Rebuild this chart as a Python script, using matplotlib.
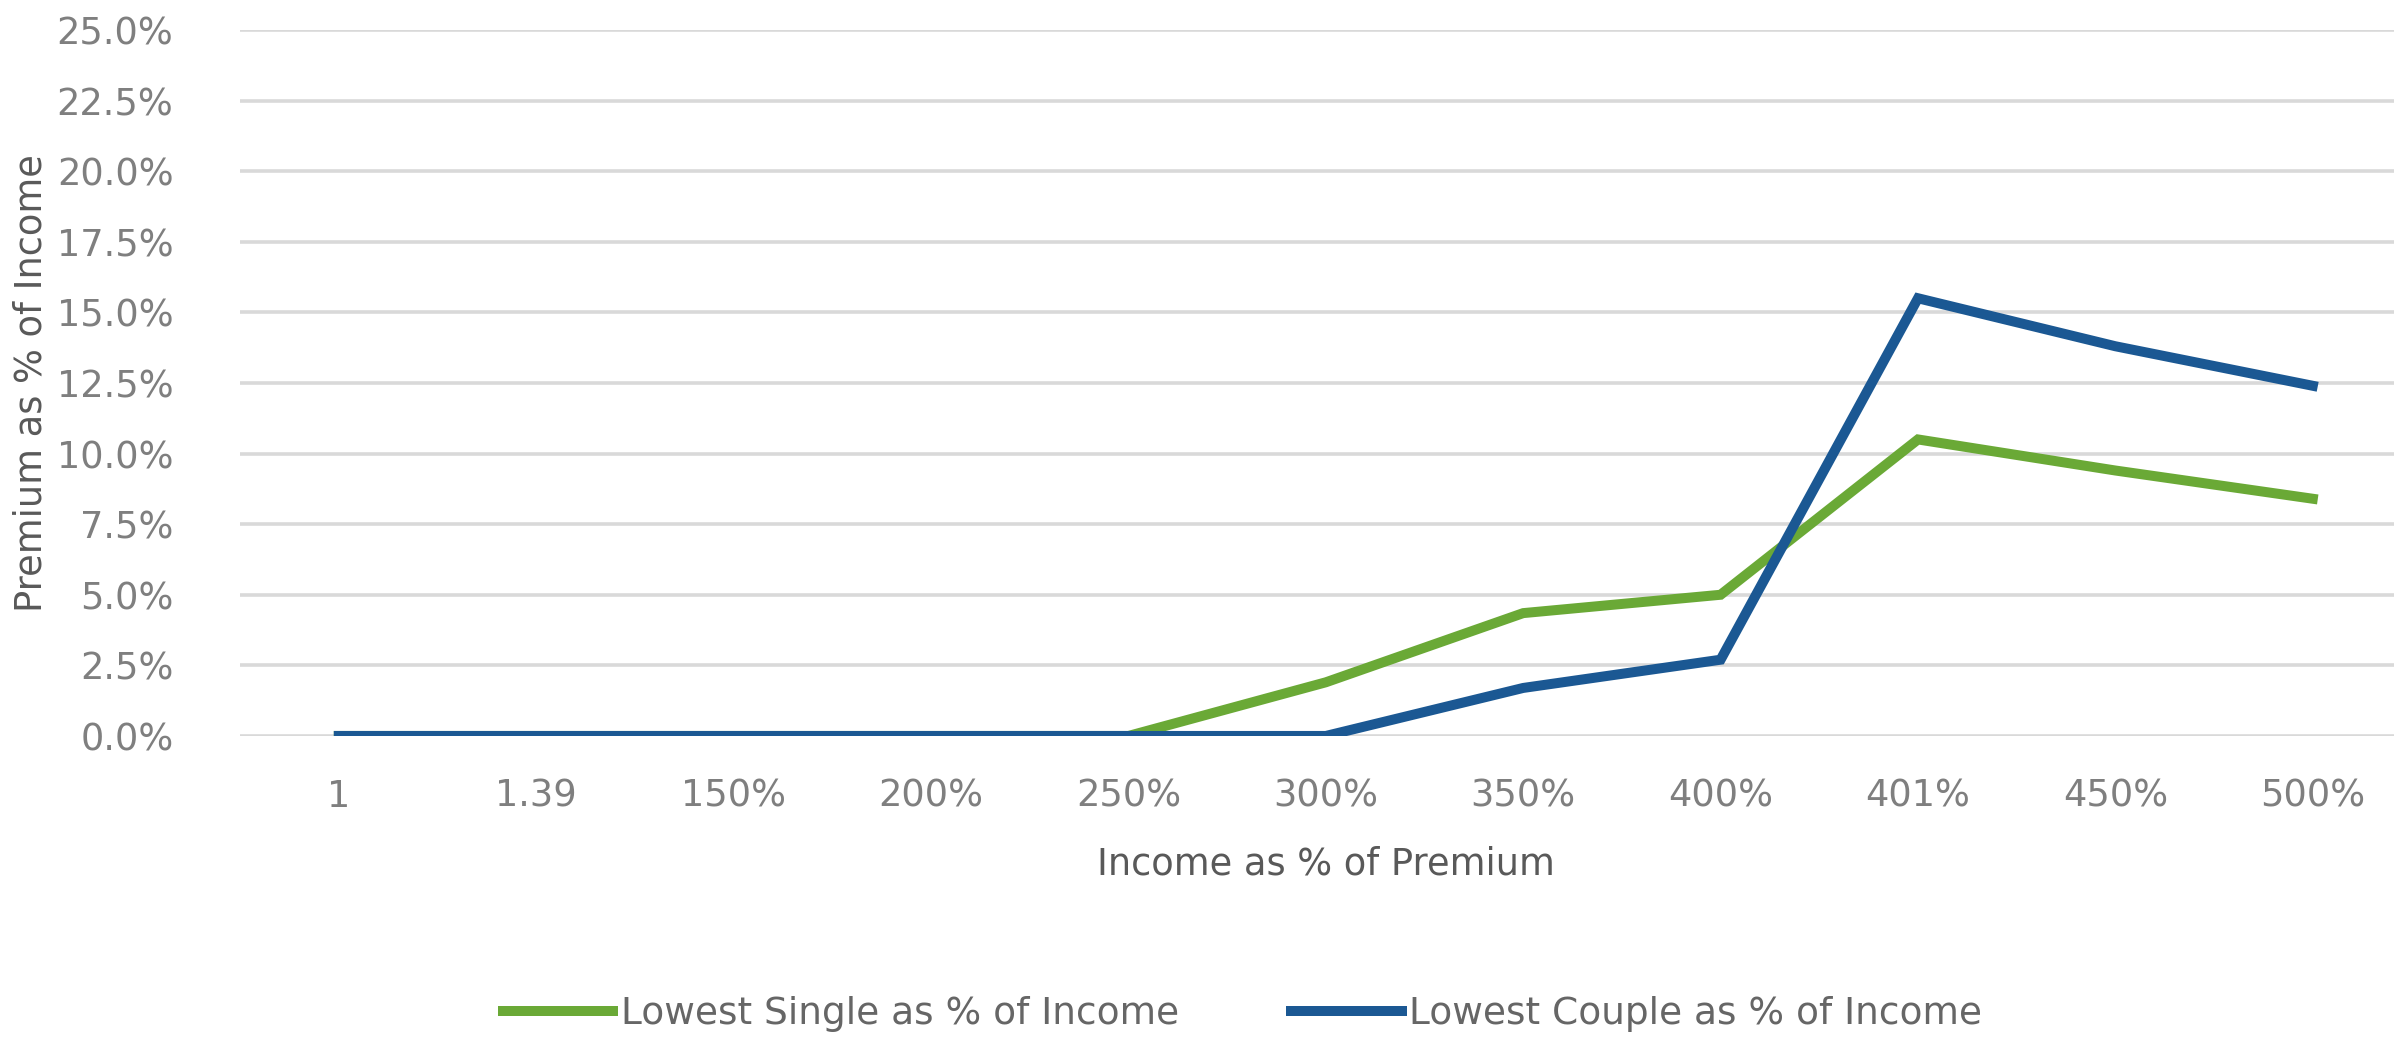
import matplotlib
matplotlib.use("Agg")
import matplotlib.pyplot as plt
from matplotlib.ticker import FuncFormatter

# categories on the x axis
income_labels = ["1", "1.39", "150%", "200%", "250%", "300%", "350%", "400%", "401%", "450%", "500%"]

# premium as share of income
single_pct = [0.0, 0.0, 0.0, 0.0, 0.0, 1.9, 4.35, 5.0, 10.5, 9.4, 8.4]
couple_pct = [0.0, 0.0, 0.0, 0.0, 0.0, 0.0, 1.7, 2.7, 15.5, 13.8, 12.4]

green = "#6aa936"
blue = "#1b5893"
txt = "#7f7f7f"

fig = plt.figure(figsize=(23.94, 10.37), dpi=100)
# axes runs a bit past the right edge, like the cropped original
ax = fig.add_axes([0.1003, 0.2903, 0.907, 0.6808])

x = list(range(len(income_labels)))
ax.plot(x, single_pct, color=green, lw=7.2, solid_joinstyle="miter",
        label="Lowest Single as % of Income", zorder=3)
ax.plot(x, couple_pct, color=blue, lw=7.2, solid_joinstyle="miter",
        label="Lowest Couple as % of Income", zorder=4)

ax.set_xlim(-0.5, len(income_labels) - 0.5)
ax.set_ylim(0, 25)
ax.set_yticks([i * 2.5 for i in range(11)])
ax.yaxis.set_major_formatter(FuncFormatter(lambda v, p: f"{v:.1f}%"))
ax.set_xticks(x)
ax.set_xticklabels(income_labels)

ax.grid(axis="y", color="#d9d9d9", lw=2.6, zorder=0)
ax.set_axisbelow(True)
for s in ax.spines.values():
    s.set_visible(False)
ax.tick_params(axis="both", length=0, labelsize=26.5, labelcolor=txt)
ax.tick_params(axis="y", pad=48)
ax.tick_params(axis="x", pad=30)

ax.set_xlabel("Income as % of Premium", fontsize=26.5, color="#595959", labelpad=22)
ax.set_ylabel("Premium as % of Income", fontsize=26.5, color="#595959", labelpad=20)
ax.yaxis.set_label_coords(-0.088, 0.5)

leg = fig.legend(loc="center", bbox_to_anchor=(0.519, 0.022), ncol=2, frameon=False,
                 fontsize=27, handlelength=2.95, handletextpad=0.2, columnspacing=3.0)
for t in leg.get_texts():
    t.set_color("#666666")

fig.savefig("out.png", dpi=100)
